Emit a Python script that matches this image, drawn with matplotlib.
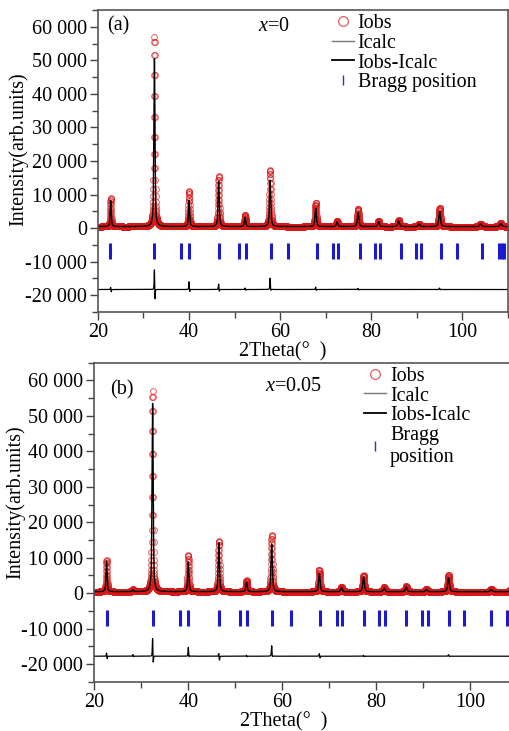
import numpy as np
import matplotlib
matplotlib.use("Agg")
import matplotlib.pyplot as plt
from matplotlib.ticker import FuncFormatter, MultipleLocator
from matplotlib.lines import Line2D

plt.rcParams['font.family'] = ['Liberation Serif', 'DejaVu Serif']
plt.rcParams['mathtext.fontset'] = 'custom'
plt.rcParams['mathtext.rm'] = 'Liberation Serif'
plt.rcParams['mathtext.it'] = 'Liberation Serif:italic'

# ---- panel (a): x=0 ----
peak_pos_a = [22.8, 32.4, 40.0, 46.5, 52.3, 57.8, 67.8, 72.5, 77.1, 81.6, 86.0, 90.5, 95.0, 104.0, 108.4]
obs_a = [8500, 56500, 10500, 15000, 3500, 17000, 7000, 1700, 5200, 1700, 1900, 900, 5500, 900, 1000]
calc_a = [7800, 50000, 7800, 13500, 2800, 13800, 5500, 1400, 4200, 1500, 1700, 800, 4500, 800, 900]
diff_pos_a = [22.8, 32.4, 40.0, 46.5, 52.3, 57.8, 67.8, 77.1, 95.0]
diff_up_a = [700, 6500, 2500, 1800, 500, 3600, 800, 400, 500]
diff_dn_a = [800, 3800, 1000, 800, 300, 900, 400, 200, 200]
bragg_a = [22.7, 32.4, 38.2, 40.1, 46.6, 51.0, 52.5, 58.0, 61.8, 68.0, 71.6, 72.8, 77.5,
           80.9, 82.0, 86.5, 89.9, 90.9, 95.4, 98.8, 104.4, 108.0, 108.6, 109.2]
bg_a = 450
diff_base_a = -18300

# ---- panel (b): x=0.05 ----
peak_pos_b = [22.6, 28.2, 32.4, 40.0, 46.5, 52.4, 57.75, 67.9, 72.6, 77.3, 81.7, 86.4, 90.7, 95.4, 104.5, 108.8]
obs_b = [9000, 600, 56500, 10200, 14200, 3200, 16000, 6200, 1300, 4600, 1300, 1500, 700, 4700, 700, 900]
calc_b = [8600, 500, 53100, 8400, 13800, 2700, 13500, 5200, 1100, 4200, 1100, 1300, 600, 3900, 600, 800]
diff_pos_b = [22.6, 28.2, 32.4, 40.0, 46.5, 52.4, 57.75, 67.9, 77.3, 95.4]
diff_up_b = [1000, 500, 5400, 2600, 1000, 300, 3100, 900, 300, 500]
diff_dn_b = [800, 200, 2500, 500, 1300, 200, 600, 700, 200, 200]
bragg_b = [22.66, 32.47, 38.2, 40.0, 46.5, 50.95, 52.45, 57.8, 61.8, 68.0, 71.6, 72.7, 77.4,
           80.7, 81.9, 86.4, 89.85, 91.0, 95.4, 98.75, 104.5, 107.8, 108.4, 109.0]
bg_b = 400
diff_base_b = -17800


def profile(x, pos, heights, width):
    y = np.zeros_like(x)
    for p, h in zip(pos, heights):
        w = width * (1 + (p - 20) / 120)
        y += h * (0.6 / (1 + ((x - p) / (w / 2)) ** 2) + 0.4 * np.exp(-4 * np.log(2) * ((x - p) / w) ** 2))
    return y


def fmt(v, pos):
    s = f"{abs(int(round(v))):,}".replace(",", " ")
    return ("-" if v < 0 else "") + s


def panel(ax, pos, obs, calc, dpos, dup, ddn, bragg, bg, dbase):
    x_obs = np.arange(20, 110.01, 0.025)
    x_calc = np.arange(20, 110.01, 0.005)
    y_obs = bg + profile(x_obs, pos, obs, 0.26)
    y_calc = bg + profile(x_calc, pos, calc, 0.26)
    y_diff = dbase + profile(x_calc, dpos, dup, 0.12) - profile(x_calc, [p + 0.12 for p in dpos], ddn, 0.12)

    ax.plot(x_obs, y_obs, ls='none', marker='o', ms=4.2, mfc='none', mec='#d81818', mew=0.8, alpha=0.6)
    ax.plot(x_calc, y_calc, color='black', lw=1.0)
    ax.plot(x_calc, y_diff, color='black', lw=0.9)
    ax.plot(bragg, [-6900] * len(bragg), ls='none', marker='|', ms=12, mew=2.2, color='#1a1ad0')

    ax.set_xlim(20, 110)
    ax.set_ylim(-25000, 65000)
    ax.xaxis.set_major_locator(MultipleLocator(20))
    ax.xaxis.set_minor_locator(MultipleLocator(10))
    ax.yaxis.set_major_locator(MultipleLocator(10000))
    ax.yaxis.set_minor_locator(MultipleLocator(5000))
    ax.yaxis.set_major_formatter(FuncFormatter(fmt))
    ax.tick_params(which='major', length=6, width=1, labelsize=14.5, color='#444444', pad=2)
    ax.tick_params(which='minor', length=4, width=1, color='#444444')
    for s in ax.spines.values():
        s.set_color('#555555')
        s.set_linewidth(1.2)

    ax.set_ylabel("Intensity(arb.units)", fontsize=14.5)
    ax.set_xlabel("2Theta(°  )", fontsize=14.5)

    handles = [
        Line2D([], [], ls='none', marker='o', ms=7, mfc='none', mec='#e06060', mew=0.9),
        Line2D([], [], color='#777777', lw=1.0),
        Line2D([], [], color='black', lw=1.3),
        Line2D([], [], ls='none', marker='|', ms=7, mew=1.0, color='#3030c0'),
    ]
    return handles


fig = plt.figure(figsize=(5.1, 7.31), dpi=100)

ax1 = fig.add_axes([0.192, 0.5732, 0.804, 0.4131])
h = panel(ax1, peak_pos_a, obs_a, calc_a, diff_pos_a, diff_up_a, diff_dn_a, bragg_a, bg_a, diff_base_a)
ax1.text(0.022, 0.947, "(a)", transform=ax1.transAxes, fontsize=14.5, va='center')
ax1.text(0.39, 0.947, r"$x$=0", transform=ax1.transAxes, fontsize=14.5, va='center')
ax1.legend(h, ["Iobs", "Icalc", "Iobs-Icalc", "Bragg position"], loc='upper left',
           bbox_to_anchor=(0.56, 1.0), frameon=False, fontsize=14.5, handlelength=1.1,
           handletextpad=0.2, labelspacing=0.03, borderpad=0.2, borderaxespad=0)
ax1.yaxis.set_label_coords(-0.17, 0.54)
ax1.xaxis.set_label_coords(0.45, -0.098)

ax2 = fig.add_axes([0.185, 0.0674, 0.829, 0.4364])
h = panel(ax2, peak_pos_b, obs_b, calc_b, diff_pos_b, diff_up_b, diff_dn_b, bragg_b, bg_b, diff_base_b)
ax2.text(0.037, 0.914, "(b)", transform=ax2.transAxes, fontsize=14.5, va='center')
ax2.text(0.404, 0.924, r"$x$=0.05", transform=ax2.transAxes, fontsize=14.5, va='center')
ax2.legend(h, ["Iobs", "Icalc", "Iobs-Icalc", "Bragg\nposition"], loc='upper left',
           bbox_to_anchor=(0.628, 1.0), frameon=False, fontsize=14.5, handlelength=1.1,
           handletextpad=0.2, labelspacing=0.03, borderpad=0.2, borderaxespad=0)
ax2.yaxis.set_label_coords(-0.164, 0.563)
ax2.xaxis.set_label_coords(0.447, -0.094)

fig.savefig("out.png", dpi=100)
